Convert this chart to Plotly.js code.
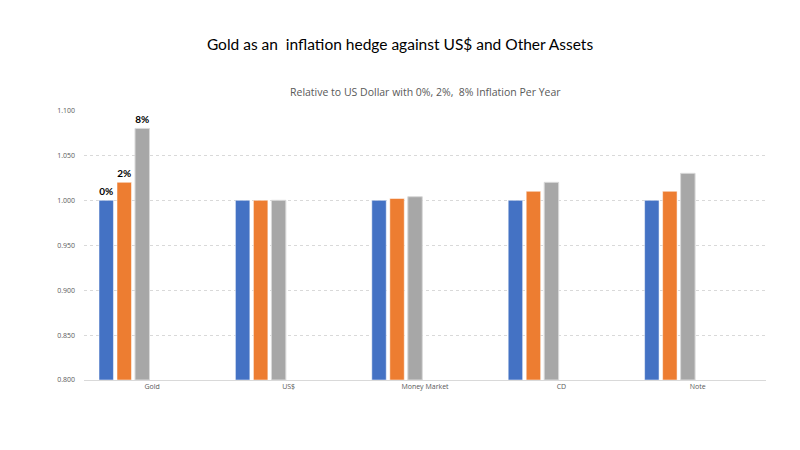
<!DOCTYPE html>
<html><head><meta charset="utf-8">
<script src="https://cdn.plot.ly/plotly-3.0.1.min.js"></script>
<style>html,body{margin:0;padding:0;background:#fff}#chart{width:800px;height:450px}</style>
</head><body><div id="chart"></div>
<script>
const categories = ['Gold', 'US$', 'Money Market', 'CD', 'Note'];
const inflation0 = [1.000, 1.000, 1.000, 1.000, 1.000];
const inflation2 = [1.020, 1.000, 1.002, 1.010, 1.010];
const inflation8 = [1.080, 1.000, 1.004, 1.020, 1.030];
const labels0 = ['0%', '', '', '', ''];
const labels2 = ['2%', '', '', '', ''];
const labels8 = ['8%', '', '', '', ''];
const yTicks = [0.8, 0.85, 0.9, 0.95, 1.0, 1.05, 1.1];
const yMin = 0.8;

const W = 0.106;
const txtFont = {family: 'Lato, sans-serif', size: 10, color: '#000', weight: 'bold'};
function tr(name, y, text, color, offset, extra) {
  return Object.assign({
    type: 'bar', name: name, x: categories, y: y.map(v => v - yMin), base: yMin, text: text,
    textposition: 'outside', cliponaxis: false, textfont: txtFont,
    width: W, offset: offset,
    marker: {color: color, line: {color: 'rgba(255,255,255,0.5)', width: 1}},
    hoverinfo: 'skip'
  }, extra || {});
}
const data = [
  tr('0%', inflation0, labels0, '#4472c4', -0.39),
  tr('2%', inflation2, labels2, '#ed7d31', -0.258),
  tr('8%', inflation8, labels8, '#a5a5a5', -0.126, {
    marker: {color: '#a9a9a9', line: {color: '#d9d9d9', width: 1},
      pattern: {shape: '.', fgcolor: '#999999', bgcolor: '#b3b3b3', size: 2, solidity: 0.5, fillmode: 'replace'}}
  })
];

const layout = {
  width: 800, height: 450,
  margin: {l: 84, r: 34, t: 110, b: 70},
  paper_bgcolor: '#fff', plot_bgcolor: '#fff',
  showlegend: false,
  barmode: 'overlay',
  font: {family: 'Open Sans, sans-serif', color: '#595959'},
  title: {text: 'Gold as an  inflation hedge against US$ and Other Assets',
    x: 0.5, xanchor: 'center', y: 0.9, yanchor: 'middle',
    font: {family: 'Lato, sans-serif', size: 15.5, color: '#000'}},
  annotations: [{
    text: 'Relative to US Dollar with 0%, 2%,  8% Inflation Per Year',
    xref: 'paper', yref: 'paper', x: 0.5, y: 1.065, xanchor: 'center', yanchor: 'middle',
    showarrow: false, font: {family: 'Open Sans, sans-serif', size: 10.5, color: '#595959'}
  }],
  xaxis: {
    type: 'category', showgrid: false, zeroline: false,
    showline: true, linecolor: '#d9d9d9', linewidth: 1,
    ticks: '', tickfont: {size: 7, color: '#595959'}, fixedrange: true
  },
  yaxis: {
    range: [0.8, 1.1005],
    tickvals: yTicks,
    ticktext: yTicks.map(v => v.toFixed(3)),
    showgrid: true, gridcolor: '#d9d9d9', griddash: 'dot', gridwidth: 1,
    zeroline: false, showline: false, ticks: '',
    tickfont: {size: 7, color: '#595959'}, ticklabelstandoff: 8, fixedrange: true
  }
};
Plotly.newPlot('chart', data, layout, {displayModeBar: false, staticPlot: true});
</script></body></html>
